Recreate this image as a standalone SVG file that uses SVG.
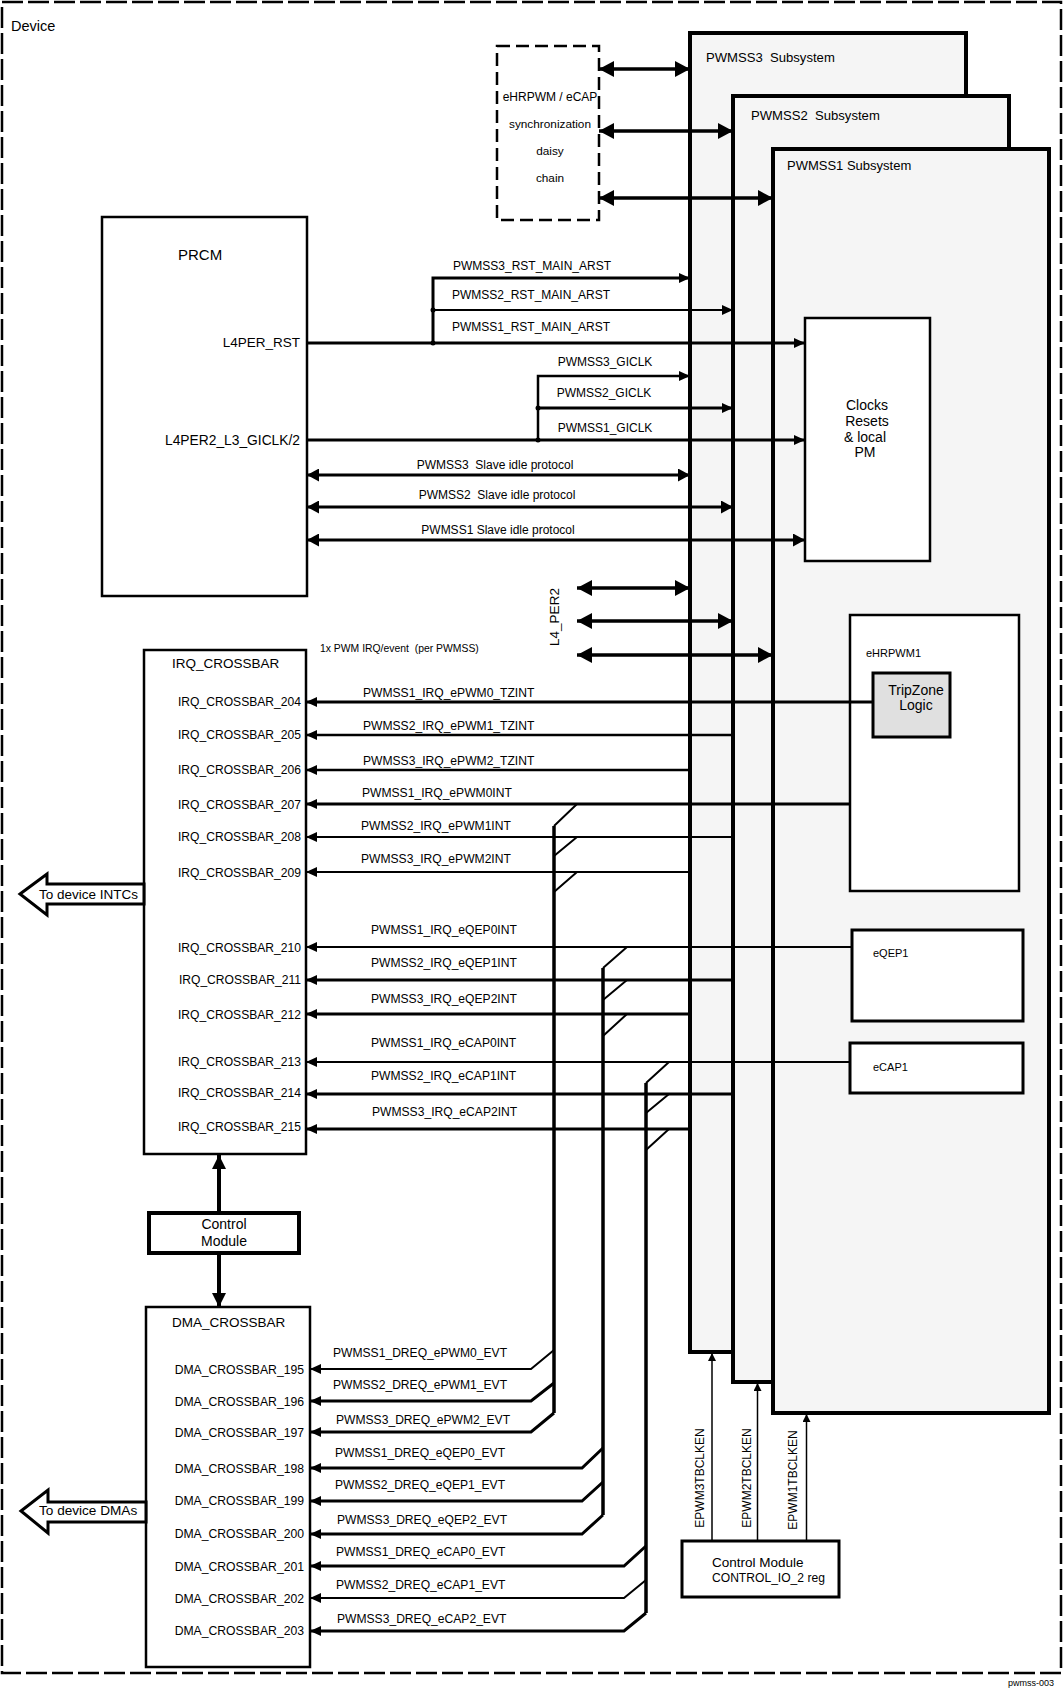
<svg xmlns="http://www.w3.org/2000/svg" width="1064" height="1690" viewBox="0 0 1064 1690">
<style>
text{font-family:"Liberation Sans",Arial,sans-serif;fill:#000;white-space:pre}
.s11{font-size:11px}
.sig{font-size:12.1px}
.s12{font-size:12px}
.lbl{font-size:12.1px;text-anchor:end}
.dl{font-size:12.2px;text-anchor:end}
.ttl{font-size:13.5px}
.mid{text-anchor:middle}
.box{fill:#fff;stroke:#000;stroke-width:2.5}
.bx3{fill:#fff;stroke:#000;stroke-width:3}
.ss{fill:#f5f5f5;stroke:#000;stroke-width:4}
.w2{stroke:#000;stroke-width:2;fill:none}
.w25{stroke:#000;stroke-width:2.5;fill:none}
.w3{stroke:#000;stroke-width:3;fill:none}
.w35{stroke:#000;stroke-width:3.5;fill:none}
.w4{stroke:#000;stroke-width:4;fill:none}
.thin{stroke:#000;stroke-width:1.5;fill:none}
.ia{marker-end:url(#a)}
</style>
<defs>
<marker id="a" viewBox="0 0 11 10" markerWidth="11" markerHeight="10" refX="11" refY="5" orient="auto-start-reverse" markerUnits="userSpaceOnUse"><path d="M0,0L11,5L0,10z"/></marker>
<marker id="m" viewBox="0 0 12 13" markerWidth="12" markerHeight="13" refX="12" refY="6.5" orient="auto-start-reverse" markerUnits="userSpaceOnUse"><path d="M0,0L12,6.5L0,13z"/></marker>
<marker id="b" viewBox="0 0 15 16" markerWidth="15" markerHeight="16" refX="15" refY="8" orient="auto-start-reverse" markerUnits="userSpaceOnUse"><path d="M0,0L15,8L0,16z"/></marker>
<marker id="c" viewBox="0 0 14 14" markerWidth="14" markerHeight="14" refX="14" refY="7" orient="auto-start-reverse" markerUnits="userSpaceOnUse"><path d="M0,0L14,7L0,14z"/></marker>
<marker id="s" viewBox="0 0 8 8" markerWidth="8" markerHeight="8" refX="8" refY="4" orient="auto-start-reverse" markerUnits="userSpaceOnUse"><path d="M0,0L8,4L0,8z"/></marker>
</defs>

<g id="device">
<rect x="2" y="2" width="1059" height="1671" fill="#fff" stroke="#000" stroke-width="2.5" stroke-dasharray="21 5"/>
<text x="11" y="31" font-size="14.5">Device</text>
<text x="1054" y="1686" font-size="9" text-anchor="end">pwmss-003</text>
</g>

<g id="sync">
<rect x="497" y="46" width="102" height="174" fill="#fff" stroke="#000" stroke-width="2.5" stroke-dasharray="13 6"/>
<text x="550" y="101" class="mid" font-size="12">eHRPWM / eCAP</text>
<text x="550" y="128" class="mid" font-size="11.8">synchronization</text>
<text x="550" y="155" class="mid" font-size="11.8">daisy</text>
<text x="550" y="182" class="mid" font-size="11.8">chain</text>
</g>

<g id="pwmss3">
<rect x="690" y="33" width="276" height="1319" class="ss"/>
<text x="706" y="62" font-size="13.1">PWMSS3  Subsystem</text>
</g>
<g id="pwmss2">
<rect x="733" y="96" width="276" height="1286" class="ss"/>
<text x="751" y="120" font-size="13.1">PWMSS2  Subsystem</text>
</g>
<g id="pwmss1">
<rect x="773" y="149" width="276" height="1264" class="ss"/>
<text x="787" y="170" font-size="13">PWMSS1 Subsystem</text>
</g>

<g id="clocks">
<rect x="805" y="318" width="125" height="243" class="box"/>
<text x="867" y="410" class="mid" font-size="14">Clocks</text>
<text x="867" y="426" class="mid" font-size="14">Resets</text>
<text x="865" y="442" class="mid" font-size="14">&amp; local</text>
<text x="865" y="457" class="mid" font-size="14">PM</text>
</g>

<g id="ehrpwm1">
<rect x="850" y="615" width="169" height="276" class="box"/>
<text x="866" y="657" class="s11">eHRPWM1</text>
</g>
<g id="tripzone">
<rect x="873" y="673" width="77" height="64" fill="#e0e0e0" stroke="#000" stroke-width="3"/>
<text x="916" y="695" class="mid" font-size="14">TripZone</text>
<text x="916" y="710" class="mid" font-size="14">Logic</text>
</g>
<g id="eqep1">
<rect x="852" y="930" width="171" height="91" class="bx3"/>
<text x="873" y="957" class="s11">eQEP1</text>
</g>
<g id="ecap1">
<rect x="850" y="1043" width="173" height="50" class="bx3"/>
<text x="873" y="1071" class="s11">eCAP1</text>
</g>

<g id="prcm">
<rect x="102" y="217" width="205" height="379" class="box"/>
<text x="178" y="260" font-size="15">PRCM</text>
<text x="300" y="347" font-size="13.5" text-anchor="end">L4PER_RST</text>
<text x="300" y="445" font-size="13.8" text-anchor="end">L4PER2_L3_GICLK/2</text>
</g>

<g id="irq_crossbar">
<rect x="144" y="650" width="162" height="504" class="box"/>
<text x="172" y="668" class="ttl">IRQ_CROSSBAR</text>
<text x="301" y="706" class="lbl">IRQ_CROSSBAR_204</text>
<text x="301" y="739" class="lbl">IRQ_CROSSBAR_205</text>
<text x="301" y="774" class="lbl">IRQ_CROSSBAR_206</text>
<text x="301" y="809" class="lbl">IRQ_CROSSBAR_207</text>
<text x="301" y="841" class="lbl">IRQ_CROSSBAR_208</text>
<text x="301" y="877" class="lbl">IRQ_CROSSBAR_209</text>
<text x="301" y="952" class="lbl">IRQ_CROSSBAR_210</text>
<text x="301" y="984" class="lbl">IRQ_CROSSBAR_211</text>
<text x="301" y="1019" class="lbl">IRQ_CROSSBAR_212</text>
<text x="301" y="1066" class="lbl">IRQ_CROSSBAR_213</text>
<text x="301" y="1097" class="lbl">IRQ_CROSSBAR_214</text>
<text x="301" y="1131" class="lbl">IRQ_CROSSBAR_215</text>
</g>

<g id="control_module">
<rect x="149" y="1213" width="150" height="40" fill="#fff" stroke="#000" stroke-width="4"/>
<text x="224" y="1229" class="mid" font-size="14">Control</text>
<text x="224" y="1246" class="mid" font-size="14">Module</text>
</g>

<g id="dma_crossbar">
<rect x="146" y="1307" width="164" height="360" class="box"/>
<text x="172" y="1327" class="ttl">DMA_CROSSBAR</text>
<text x="304" y="1374" class="dl">DMA_CROSSBAR_195</text>
<text x="304" y="1406" class="dl">DMA_CROSSBAR_196</text>
<text x="304" y="1437" class="dl">DMA_CROSSBAR_197</text>
<text x="304" y="1473" class="dl">DMA_CROSSBAR_198</text>
<text x="304" y="1505" class="dl">DMA_CROSSBAR_199</text>
<text x="304" y="1538" class="dl">DMA_CROSSBAR_200</text>
<text x="304" y="1571" class="dl">DMA_CROSSBAR_201</text>
<text x="304" y="1603" class="dl">DMA_CROSSBAR_202</text>
<text x="304" y="1635" class="dl">DMA_CROSSBAR_203</text>
</g>

<g id="to_intcs">
<polygon points="20,894 47,874 47,884 144,884 144,904 47,904 47,915" fill="#fff" stroke="#000" stroke-width="3"/>
<text x="39" y="899" font-size="13.5">To device INTCs</text>
</g>
<g id="to_dmas">
<polygon points="21,1511 48,1490 48,1502 146,1502 146,1522 48,1522 48,1533" fill="#fff" stroke="#000" stroke-width="3"/>
<text x="39" y="1515" font-size="13.6">To device DMAs</text>
</g>

<g id="control_io2">
<rect x="682" y="1541" width="157" height="56" class="bx3"/>
<text x="712" y="1567" font-size="13.5">Control Module</text>
<text x="712" y="1582" font-size="12.1">CONTROL_IO_2 reg</text>
</g>

<g id="connectors">
<path d="M599,69H690" class="w35" marker-start="url(#b)" marker-end="url(#b)"/>
<path d="M599,131H733" class="w35" marker-start="url(#b)" marker-end="url(#b)"/>
<path d="M599,198H773" class="w35" marker-start="url(#b)" marker-end="url(#b)"/>

<path d="M307,343H805" class="w3 ia"/>
<path d="M433,343V278H690" class="w3 ia"/>
<path d="M433,310H733" class="w2 ia"/>
<circle cx="433" cy="310" r="2.5"/>
<circle cx="433" cy="343" r="2.5"/>
<text x="532" y="270" class="s12 mid">PWMSS3_RST_MAIN_ARST</text>
<text x="531" y="299" class="s12 mid">PWMSS2_RST_MAIN_ARST</text>
<text x="531" y="331" class="s12 mid">PWMSS1_RST_MAIN_ARST</text>

<path d="M307,440H805" class="w3 ia"/>
<path d="M538,440V376H690" class="w25 ia"/>
<path d="M538,408H733" class="w3 ia"/>
<circle cx="538" cy="408" r="2.5"/>
<circle cx="538" cy="440" r="2.5"/>
<text x="605" y="366" class="s12 mid">PWMSS3_GICLK</text>
<text x="604" y="397" class="s12 mid">PWMSS2_GICLK</text>
<text x="605" y="432" class="s12 mid">PWMSS1_GICLK</text>

<path d="M307,475H690" class="w3" marker-start="url(#m)" marker-end="url(#m)"/>
<path d="M307,507H733" class="w3" marker-start="url(#m)" marker-end="url(#m)"/>
<path d="M307,540H805" class="w3" marker-start="url(#m)" marker-end="url(#m)"/>
<text x="495" y="469" class="s12 mid">PWMSS3  Slave idle protocol</text>
<text x="497" y="499" class="s12 mid">PWMSS2  Slave idle protocol</text>
<text x="498" y="534" class="s12 mid">PWMSS1 Slave idle protocol</text>

<path d="M577,588H690" class="w35" marker-start="url(#b)" marker-end="url(#b)"/>
<path d="M577,621H733" class="w35" marker-start="url(#b)" marker-end="url(#b)"/>
<path d="M577,655H773" class="w35" marker-start="url(#b)" marker-end="url(#b)"/>
<text x="559" y="617" font-size="13.5" text-anchor="middle" transform="rotate(-90 559 617)">L4_PER2</text>

<text x="320" y="652" font-size="10.4">1x PWM IRQ/event  (per PWMSS)</text>

<path d="M873,702H306" class="w3 ia"/>
<path d="M733,735H306" class="w25 ia"/>
<path d="M690,770H306" class="w25 ia"/>
<path d="M850,804H306" class="w3 ia"/>
<path d="M733,837H306" class="w2 ia"/>
<path d="M690,872H306" class="w2 ia"/>
<path d="M852,947H306" class="w2 ia"/>
<path d="M733,980H306" class="w3 ia"/>
<path d="M690,1014H306" class="w3 ia"/>
<path d="M850,1062H306" class="w2 ia"/>
<path d="M733,1094H306" class="w3 ia"/>
<path d="M690,1129H306" class="w3 ia"/>
<text x="363" y="697" class="sig">PWMSS1_IRQ_ePWM0_TZINT</text>
<text x="363" y="730" class="sig">PWMSS2_IRQ_ePWM1_TZINT</text>
<text x="363" y="765" class="sig">PWMSS3_IRQ_ePWM2_TZINT</text>
<text x="362" y="797" class="sig">PWMSS1_IRQ_ePWM0INT</text>
<text x="361" y="830" class="sig">PWMSS2_IRQ_ePWM1INT</text>
<text x="361" y="863" class="sig">PWMSS3_IRQ_ePWM2INT</text>
<text x="371" y="934" class="sig">PWMSS1_IRQ_eQEP0INT</text>
<text x="371" y="967" class="sig">PWMSS2_IRQ_eQEP1INT</text>
<text x="371" y="1003" class="sig">PWMSS3_IRQ_eQEP2INT</text>
<text x="371" y="1047" class="sig">PWMSS1_IRQ_eCAP0INT</text>
<text x="371" y="1080" class="sig">PWMSS2_IRQ_eCAP1INT</text>
<text x="372" y="1116" class="sig">PWMSS3_IRQ_eCAP2INT</text>

<path d="M554,826V1413" class="w35"/>
<path d="M554,826L577,804M554,856L577,837M554,892L577,872" class="w2"/>
<path d="M603,968V1515" class="w35"/>
<path d="M603,968L627,947M603,1000L627,980M603,1036L627,1014" class="w2"/>
<path d="M646,1083V1613" class="w35"/>
<path d="M646,1083L669,1062M646,1113L669,1094M646,1150L669,1129" class="w2"/>

<path d="M554,1350L531,1369H310" class="w2 ia"/>
<path d="M554,1383L531,1401H310" class="w3 ia"/>
<path d="M554,1413L531,1432H310" class="w3 ia"/>
<path d="M603,1448L582,1468H310" class="w3 ia"/>
<path d="M603,1482L582,1501H310" class="w3 ia"/>
<path d="M603,1515L582,1534H310" class="w3 ia"/>
<path d="M646,1546L624,1566H310" class="w3 ia"/>
<path d="M646,1580L624,1598H310" class="w2 ia"/>
<path d="M646,1613L624,1631H310" class="w3 ia"/>
<text x="333" y="1357" class="sig">PWMSS1_DREQ_ePWM0_EVT</text>
<text x="333" y="1389" class="sig">PWMSS2_DREQ_ePWM1_EVT</text>
<text x="336" y="1424" class="sig">PWMSS3_DREQ_ePWM2_EVT</text>
<text x="335" y="1457" class="sig">PWMSS1_DREQ_eQEP0_EVT</text>
<text x="335" y="1489" class="sig">PWMSS2_DREQ_eQEP1_EVT</text>
<text x="337" y="1524" class="sig">PWMSS3_DREQ_eQEP2_EVT</text>
<text x="336" y="1556" class="sig">PWMSS1_DREQ_eCAP0_EVT</text>
<text x="336" y="1589" class="sig">PWMSS2_DREQ_eCAP1_EVT</text>
<text x="337" y="1623" class="sig">PWMSS3_DREQ_eCAP2_EVT</text>

<path d="M219,1213V1155" class="w4" marker-end="url(#c)"/>
<path d="M219,1253V1307" class="w4" marker-end="url(#c)"/>

<path d="M712,1541V1353" class="thin" marker-end="url(#s)"/>
<path d="M757.5,1541V1383" class="thin" marker-end="url(#s)"/>
<path d="M806.5,1541V1414" class="thin" marker-end="url(#s)"/>
<text x="704" y="1478" class="s12" text-anchor="middle" transform="rotate(-90 704 1478)">EPWM3TBCLKEN</text>
<text x="751" y="1478" class="s12" text-anchor="middle" transform="rotate(-90 751 1478)">EPWM2TBCLKEN</text>
<text x="797" y="1480" class="s12" text-anchor="middle" transform="rotate(-90 797 1480)">EPWM1TBCLKEN</text>
</g>
</svg>
